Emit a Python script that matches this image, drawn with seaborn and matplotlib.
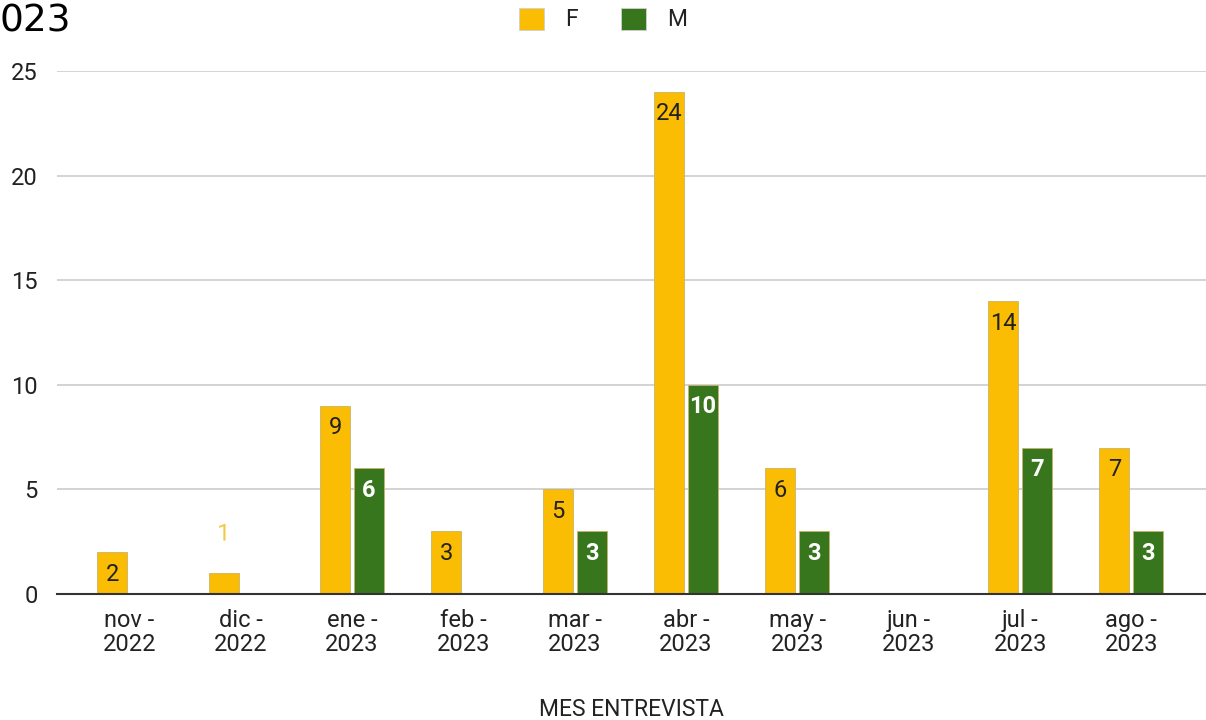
import matplotlib
matplotlib.use("Agg")
import matplotlib.pyplot as plt
import matplotlib.patheffects as pe
from matplotlib.patches import Patch
import seaborn as sns
import pandas as pd

months = ["nov -\n2022", "dic -\n2022", "ene -\n2023", "feb -\n2023", "mar -\n2023",
          "abr -\n2023", "may -\n2023", "jun -\n2023", "jul -\n2023", "ago -\n2023"]
f_values = [2, 1, 9, 3, 5, 24, 6, 0, 14, 7]
m_values = [0, 0, 6, 0, 3, 10, 3, 0, 7, 3]
series = ["F", "M"]
colors = {"F": "#FBBC04", "M": "#38761D"}

df = pd.DataFrame({
    "mes": months * 2,
    "sexo": ["F"] * len(months) + ["M"] * len(months),
    "n": f_values + m_values,
})

sns.set_theme(style="white")
plt.rcParams["font.family"] = ["Roboto", "DejaVu Sans"]

fig = plt.figure(figsize=(12.06, 7.2), dpi=100)
ax = fig.add_axes([57 / 1206, 1 - 594 / 720, 1 - 57 / 1206, (594 - 71) / 720])

sns.barplot(data=df, x="mes", y="n", hue="sexo", order=months, hue_order=series,
            palette=colors, saturation=1, width=0.61, gap=0.12, ax=ax, legend=False,
            edgecolor="#c9b26a", linewidth=0.6, errorbar=None)

ax.set_ylim(0, 25)
ax.set_xlim(-0.65, 9.67)
ax.set_yticks([0, 5, 10, 15, 20, 25])
ax.yaxis.grid(True, color="#cccccc", linewidth=1.2)
ax.set_axisbelow(True)
for s in ["top", "right", "left"]:
    ax.spines[s].set_visible(False)
ax.spines["bottom"].set_color("#333333")
ax.spines["bottom"].set_linewidth(1.5)
ax.spines["bottom"].set_zorder(5)
ax.tick_params(axis="both", length=0, labelsize=17, colors="#222222")
ax.tick_params(axis="y", pad=14)
ax.tick_params(axis="x", pad=11)
for lab in ax.get_xticklabels():
    lab.set_linespacing(1.05)
ax.set_ylabel("")
ax.set_xlabel("MES ENTREVISTA", fontsize=16.5, color="#222222", va="center")
ax.xaxis.set_label_coords(0.5, -0.22)

for container, name in zip(ax.containers, series):
    for bar in container:
        h = bar.get_height()
        if h <= 0:
            bar.set_visible(False)
            continue
        x = bar.get_x() + bar.get_width() / 2
        val = f"{int(h)}"
        if h < 1.5:
            t = ax.annotate(val, (x, h), xytext=(0, 39), textcoords="offset pixels",
                            ha="center", va="center", fontsize=17, color="#f5c842")
            t.set_path_effects([pe.withStroke(linewidth=3, foreground="white")])
        else:
            col = "#222222" if name == "F" else "white"
            ax.annotate(val, (x, h), xytext=(0, -22), textcoords="offset pixels",
                        ha="center", va="center", fontsize=17, color=col,
                        fontweight="normal" if name == "F" else "bold")

handles = [Patch(facecolor=colors[s], edgecolor="#d0d0d0", linewidth=0.6) for s in series]
fig.legend(handles, series, loc="upper center", bbox_to_anchor=(0.5, 1.018), ncol=2,
           frameon=False, fontsize=16.5, handlelength=1.1, handleheight=1.1,
           columnspacing=1.9, handletextpad=0.9, labelcolor="#222222")

fig.text(0.0, 0.995, "023", ha="left", va="top", fontsize=27,
         family=["Liberation Sans Narrow", "DejaVu Sans"], color="black")

fig.savefig("out.png", dpi=100)
